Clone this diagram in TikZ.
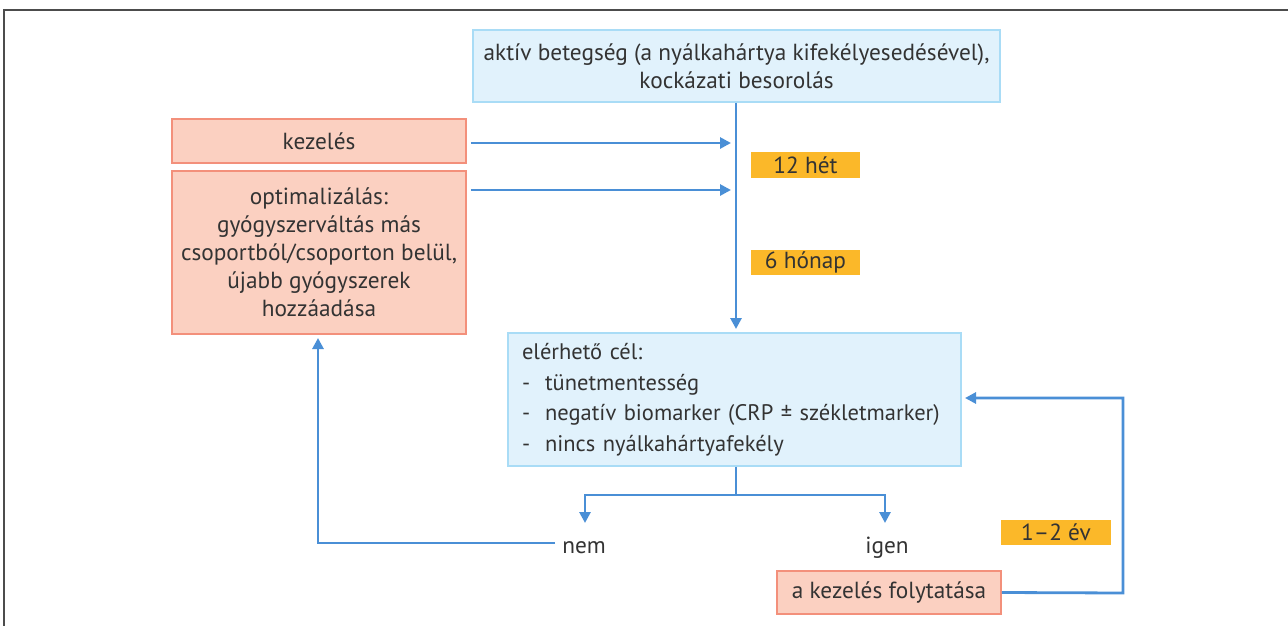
\documentclass[tikz,border=0pt]{standalone}
\usepackage{fontspec}
\setmainfont{PT Sans}
\usetikzlibrary{arrows.meta}
\definecolor{txt}{HTML}{333333}
\definecolor{lnblue}{HTML}{4A8FD6}
\definecolor{bfill}{HTML}{E1F2FC}
\definecolor{bdraw}{HTML}{A9DCF6}
\definecolor{sfill}{HTML}{FBD0C1}
\definecolor{sdraw}{HTML}{F3907B}
\definecolor{lab}{HTML}{FBB829}
\begin{document}
\begin{tikzpicture}[x=1pt,y=-1pt,
  every node/.style={text=txt,font=\fontsize{23.3}{28}\selectfont,inner sep=0pt},
  bluebox/.style={draw=bdraw,fill=bfill,line width=1.5pt},
  salmonbox/.style={draw=sdraw,fill=sfill,line width=1.5pt,align=center},
  labelbox/.style={fill=lab,minimum width=109pt,minimum height=26pt},
  conn/.style={draw=lnblue,line width=2.8pt},
  arr/.style={conn,-{Triangle[length=11pt,width=11pt]}}]
\useasboundingbox (0,0) rectangle (1288,626);
\draw[black!70,line width=1.5pt] (4,626) -- (4,10) -- (1288,10);

\node[bluebox,minimum width=527pt,minimum height=72pt,align=center] (top) at (736.5,66)
  {aktív betegség (a nyálkahártya kifekélyesedésével),\\kockázati besorolás};
\node[salmonbox,minimum width=294pt,minimum height=44pt] (kez) at (319,141) {kezelés};
\node[salmonbox,minimum width=294pt,minimum height=163pt] (opt) at (319,252.5)
  {optimalizálás:\\gyógyszerváltás más\\csoportból/csoporton belül,\\újabb gyógyszerek\\hozzáadása};
\node[bluebox,minimum width=453pt,minimum height=133pt,text width=425pt,align=left,
  font=\fontsize{22.5}{30.5}\selectfont] (cel) at (734.5,399.5)
  {elérhető cél:\\-\ \ tünetmentesség\\-\ \ negatív biomarker (CRP ± székletmarker)\\-\ \ nincs nyálkahártyafekély};
\node[salmonbox,minimum width=224pt,minimum height=43pt] (folyt) at (889,592.5) {a kezelés folytatása};
\node[labelbox] (h12) at (805.5,165) {12 hét};
\node[labelbox,minimum height=25pt] (h6) at (805.5,262.5) {6 hónap};
\node[labelbox,minimum width=110pt,minimum height=25pt] (ev) at (1056,532.5) {1–2 év};
\node[anchor=base] (nem) at (584,553) {nem};
\node[anchor=base] (igen) at (887,553) {igen};

\coordinate (kt) at (731,143);
\coordinate (ot) at (731,190);
\coordinate (split) at (736,495);
\coordinate (nemtip) at (585,523);
\coordinate (igentip) at (885,523);
\coordinate (nl) at (555,543);
\coordinate (nc) at (318,543);
\coordinate (fr) at (1123,593);
\coordinate (fu) at (1123,398);
\coordinate (ct) at (965,398);

\draw[arr] (top.south -| 736,0) -- (736,329);
\draw[arr] (kez.east |- kt) ++(4,0) -- (kt);
\draw[arr] (opt.east |- ot) ++(4,0) -- (ot);
\draw[conn] (cel.south -| split) -- (split);
\draw[arr] (split) -| (nemtip);
\draw[arr] (split) -| (igentip);
\draw[arr] (nl) -- (nc) -- (318,338);
\draw[arr] (folyt.east) -- (fr) -- (fu) -- (ct);
\end{tikzpicture}
\end{document}
